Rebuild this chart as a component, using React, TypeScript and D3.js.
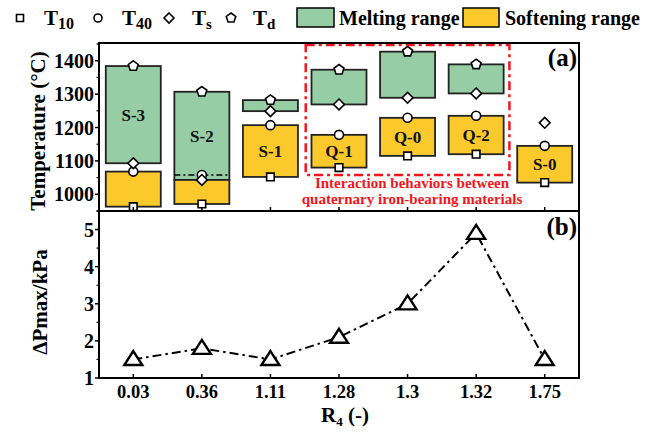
import React from 'react'
import * as d3 from 'd3'

// R4 ratio categories and sample names
const ratios = ['0.03', '0.36', '1.11', '1.28', '1.3', '1.32', '1.75']
const samples = ['S-3', 'S-2', 'S-1', 'Q-1', 'Q-0', 'Q-2', 'S-0']

// characteristic temperatures (°C)
const t10 = [963, 971, 1052, 1080, 1115, 1120, 1035]
const t40 = [1068, 1058, 1207, 1178, 1229, 1235, 1145]
const ts = [1093, 1043, 1249, 1269, 1289, 1302, 1214]
const td: (number | null)[] = [1384, 1307, 1282, 1373, 1427, 1389, null]
// which box holds the sample label
const labelIn = ['melt', 'melt', 'soft', 'soft', 'soft', 'soft', 'soft']

// max pressure drop (kPa)
const dPmax = [1.5, 1.8, 1.5, 2.1, 3.0, 4.9, 1.5]

const tempTicks = [1000, 1100, 1200, 1300, 1400]
const pTicks = [1, 2, 3, 4, 5]

const GREEN = '#96cda5'
const YELLOW = '#fcc92c'
const RED = '#f5141c'
const FONT = '"Liberation Serif", "Times New Roman", serif'

const square = (s: number) => `M${-s},${-s}h${2 * s}v${2 * s}h${-2 * s}Z`
const diamond = (s: number) => `M0,${-s}L${s},0L0,${s}L${-s},0Z`
const pentagon = (r: number) =>
  'M' + d3.range(5).map(k => {
    const a = -Math.PI / 2 + k * 2 * Math.PI / 5
    return `${(r * Math.cos(a)).toFixed(2)},${(r * Math.sin(a)).toFixed(2)}`
  }).join('L') + 'Z'
const triangle = (w: number, h: number) => `M0,${-h * 0.6}L${w / 2},${h * 0.4}L${-w / 2},${h * 0.4}Z`

export default function App() {
  const left = 99, right = 579
  const topA = 43, midY = 211, botB = 378

  const x = d3.scalePoint<string>().domain(ratios).range([left, right]).padding(0.5)
  const step = x.step()
  const yA = d3.scaleLinear().domain([950, 1453]).range([midY, topA])
  const yB = d3.scaleLinear().domain([1, 5.5]).range([botB, midY])
  const boxW = 55

  const tempMinor = d3.range(950, 1451, 50).filter(v => v % 100 !== 0)
  const pMinor = d3.range(1.5, 5.6, 1)

  const line = d3.line<number>()
    .x((_, i) => x(ratios[i])!)
    .y(d => yB(d))

  const marker = { fill: '#fff', stroke: '#000', strokeWidth: 1.6 }

  return (
    <svg width={654} height={439} style={{ position: 'absolute', left: 0, top: 0, background: '#fff' }}
      fontFamily={FONT} fontWeight="bold">
      {/* legend */}
      <g>
        <path d={square(3.5)} transform="translate(20,18)" {...marker} />
        <text x={44} y={25} fontSize={21}>T<tspan fontSize={16} dy={4}>10</tspan></text>
        <circle cx={98} cy={18} r={4} {...marker} />
        <text x={122} y={25} fontSize={21}>T<tspan fontSize={16} dy={4}>40</tspan></text>
        <path d={diamond(5)} transform="translate(169,18)" {...marker} />
        <text x={192} y={25} fontSize={21}>T<tspan fontSize={15} dy={4}>s</tspan></text>
        <path d={pentagon(5)} transform="translate(231,18)" {...marker} />
        <text x={253} y={25} fontSize={21}>T<tspan fontSize={15} dy={4}>d</tspan></text>
        <rect x={297} y={8} width={37} height={19} fill={GREEN} stroke="#000" strokeWidth={1.5} />
        <text x={339} y={25} fontSize={20}>Melting range</text>
        <rect x={463} y={8} width={36} height={19} fill={YELLOW} stroke="#000" strokeWidth={1.5} />
        <text x={505} y={25} fontSize={20}>Softening range</text>
      </g>

      {/* panel (a) boxes */}
      {samples.map((name, i) => {
        const cx = x(ratios[i])!
        const softTop = Math.min(t40[i], ts[i])
        const hasMelt = td[i] !== null
        const ly = labelIn[i] === 'melt' && hasMelt
          ? (yA(ts[i]) + yA(td[i]!)) / 2
          : (yA(t10[i]) + yA(softTop)) / 2
        return (
          <g key={name}>
            {hasMelt && (
              <rect x={cx - boxW / 2} y={yA(td[i]!)} width={boxW} height={yA(ts[i]) - yA(td[i]!)}
                fill={GREEN} stroke="#222" strokeWidth={1.8} />
            )}
            <rect x={cx - boxW / 2} y={yA(softTop)} width={boxW} height={yA(t10[i]) - yA(softTop)}
              fill={YELLOW} stroke="#222" strokeWidth={1.8} />
            {t40[i] > ts[i] && (
              <line x1={cx - boxW / 2} x2={cx + boxW / 2} y1={yA(t40[i])} y2={yA(t40[i])}
                stroke="#000" strokeWidth={1.5} strokeDasharray="6,3,2,3" />
            )}
            <text x={cx} y={ly} dy="0.35em" textAnchor="middle" fontSize={17} fill="#111">{name}</text>
            <path d={square(3.8)} transform={`translate(${cx},${yA(t10[i])})`} {...marker} />
            <circle cx={cx} cy={yA(t40[i])} r={4.5} {...marker} />
            <path d={diamond(5.4)} transform={`translate(${cx},${yA(ts[i])})`} {...marker} />
            {hasMelt && <path d={pentagon(5.2)} transform={`translate(${cx},${yA(td[i]!)})`} {...marker} />}
          </g>
        )
      })}

      {/* interaction region */}
      <rect x={x('1.28')! - step / 2 + 1} y={yA(1447)} width={x('1.32')! - x('1.28')! + step - 2}
        height={yA(1058) - yA(1447)} fill="none" stroke={RED} strokeWidth={2.5} strokeDasharray="9,4,3,4" />
      <text x={412} y={188} textAnchor="middle" fontSize={15} fill={RED}>Interaction behaviors between</text>
      <text x={412} y={204} textAnchor="middle" fontSize={15} fill={RED}>quaternary iron-bearing materials</text>

      {/* panel (b) line */}
      <path d={line(dPmax)!} fill="none" stroke="#000" strokeWidth={2} strokeDasharray="9,4,2.5,4" />
      {dPmax.map((v, i) => (
        <path key={i} d={triangle(18, 14)} transform={`translate(${x(ratios[i])},${yB(v)})`}
          fill="#fff" stroke="#000" strokeWidth={2.4} strokeLinejoin="miter" />
      ))}

      {/* frames */}
      <rect x={left} y={topA} width={right - left} height={midY - topA} fill="none" stroke="#000" strokeWidth={2} />
      <rect x={left} y={midY} width={right - left} height={botB - midY} fill="none" stroke="#000" strokeWidth={2} />

      {/* x ticks (inward) */}
      {ratios.map(r => (
        <g key={r}>
          <line x1={x(r)} x2={x(r)} y1={midY} y2={midY - 4} stroke="#000" strokeWidth={1.5} />
          <line x1={x(r)} x2={x(r)} y1={botB} y2={botB - 4} stroke="#000" strokeWidth={1.5} />
          <text x={x(r)} y={398} textAnchor="middle" fontSize={18.5}>{r}</text>
        </g>
      ))}

      {/* y ticks panel (a) */}
      {tempTicks.map(t => (
        <g key={t}>
          <line x1={left} x2={left - 4} y1={yA(t)} y2={yA(t)} stroke="#000" strokeWidth={1.5} />
          <text x={94} y={yA(t)} dy="0.35em" textAnchor="end" fontSize={20}>{t}</text>
        </g>
      ))}
      {tempMinor.map(t => (
        <line key={t} x1={left} x2={left - 2.5} y1={yA(t)} y2={yA(t)} stroke="#000" strokeWidth={1.2} />
      ))}

      {/* y ticks panel (b) */}
      {pTicks.map(t => (
        <g key={t}>
          <line x1={left} x2={left - 4} y1={yB(t)} y2={yB(t)} stroke="#000" strokeWidth={1.5} />
          <text x={94} y={yB(t)} dy="0.35em" textAnchor="end" fontSize={20}>{t}</text>
        </g>
      ))}
      {pMinor.map(t => (
        <line key={t} x1={left} x2={left - 2.5} y1={yB(t)} y2={yB(t)} stroke="#000" strokeWidth={1.2} />
      ))}

      {/* panel tags */}
      <text x={577} y={66} textAnchor="end" fontSize={25}>(a)</text>
      <text x={577} y={235} textAnchor="end" fontSize={25}>(b)</text>

      {/* axis titles */}
      <text transform="translate(45,131) rotate(-90)" textAnchor="middle" fontSize={21}>Temperature (°C)</text>
      <text transform="translate(47,302) rotate(-90)" textAnchor="middle" fontSize={21}>ΔPmax/kPa</text>
      <text x={345} y={422} textAnchor="middle" fontSize={21}>R<tspan fontSize={13} dy={4}>4</tspan><tspan dy={-4}> (-)</tspan></text>
    </svg>
  )
}
